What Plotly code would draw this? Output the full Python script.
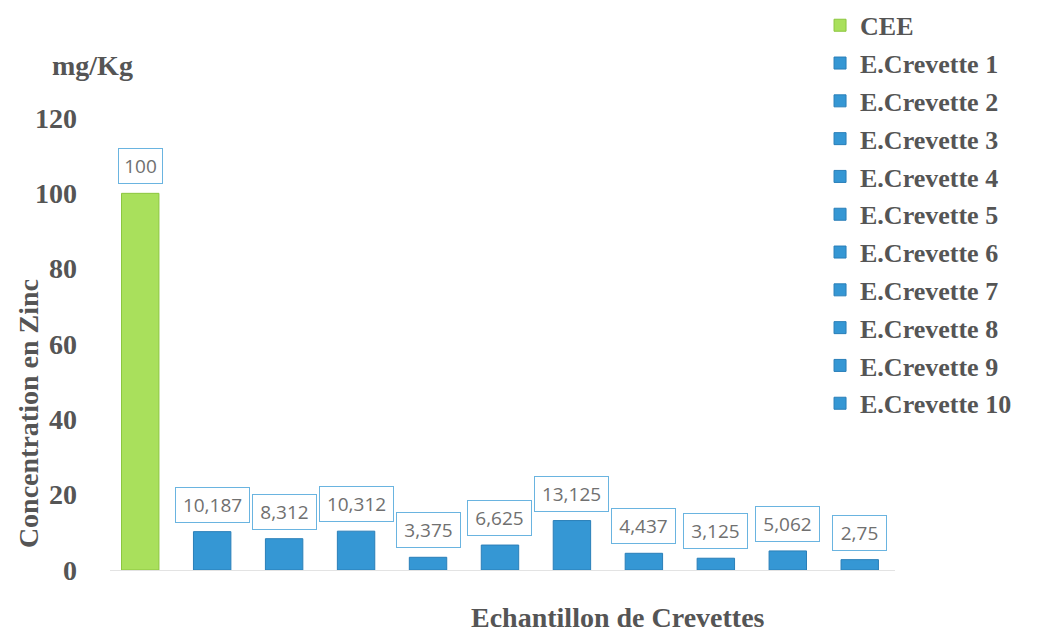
import plotly.graph_objects as go

categories = ["CEE", "E.Crevette 1", "E.Crevette 2", "E.Crevette 3", "E.Crevette 4",
              "E.Crevette 5", "E.Crevette 6", "E.Crevette 7", "E.Crevette 8",
              "E.Crevette 9", "E.Crevette 10"]
values = [100, 10.187, 8.312, 10.312, 3.375, 6.625, 13.125, 4.437, 3.125, 5.062, 2.75]
value_labels = ["100", "10,187", "8,312", "10,312", "3,375", "6,625", "13,125",
                "4,437", "3,125", "5,062", "2,75"]
y_ticks = [0, 20, 40, 60, 80, 100, 120]

GREEN = "#a9e05c"
GREEN_EDGE = "#8cc63f"
BLUE = "#3597d4"
BLUE_EDGE = "#2a7fb8"
TEXT = "#555555"
SERIF = "Liberation Serif"

fig = go.Figure()
for i, (cat, val) in enumerate(zip(categories, values)):
    is_ref = (i == 0)
    fig.add_trace(go.Bar(
        x=[cat], y=[val], name=cat, width=0.52,
        legendgroup=cat,
        marker=dict(color=GREEN if is_ref else BLUE,
                    line=dict(color=GREEN_EDGE if is_ref else BLUE_EDGE, width=1)),
        hoverinfo="x+y",
    ))

annotations = []
for cat, val, lab in zip(categories, values, value_labels):
    annotations.append(dict(
        x=cat, y=val, xref="x", yref="y", text=lab, showarrow=False,
        yanchor="bottom", yshift=9,
        font=dict(family="Open Sans", size=19, color="#707070"),
        bordercolor="#6ab4e0", borderwidth=1, borderpad=4, bgcolor="white",
        width=len(lab) * 10 + 5,
    ))

annotations += [
    dict(text="mg/Kg", xref="paper", yref="paper", x=-0.0217, y=1.117,
         xanchor="center", yanchor="middle", showarrow=False,
         font=dict(family=SERIF, size=28, color=TEXT, weight="bold")),
    dict(text="Concentration en Zinc", xref="paper", yref="paper",
         x=-0.1045, y=0.347, xanchor="center", yanchor="middle",
         textangle=-90, showarrow=False,
         font=dict(family=SERIF, size=28, color=TEXT, weight="bold")),
    dict(text="Echantillon de Crevettes", xref="paper", yref="paper",
         x=0.647, y=-0.106, xanchor="center", yanchor="middle", showarrow=False,
         font=dict(family=SERIF, size=28, color=TEXT, weight="bold")),
]

fig.update_layout(
    width=1046, height=631,
    margin=dict(l=102, r=159, t=110, b=69, autoexpand=False),
    paper_bgcolor="white", plot_bgcolor="white",
    barmode="overlay",
    showlegend=True,
    legend=dict(x=0.9045, y=1.257, xanchor="left", yanchor="top",
                font=dict(family=SERIF, size=26, color=TEXT, weight="bold"),
                tracegroupgap=1, bgcolor="rgba(0,0,0,0)", maxheight=1),
    xaxis=dict(range=[-0.42, 10.49], showticklabels=False, ticks="",
               showgrid=False, showline=True, linecolor="#e3e3e3", linewidth=1,
               zeroline=False),
    yaxis=dict(range=[0, 120], tickvals=y_ticks,
               tickfont=dict(family=SERIF, size=28, color=TEXT, weight="bold"),
               ticklabelstandoff=32,
               showgrid=False, zeroline=False, showline=False),
    annotations=annotations,
)

fig.write_html("out.html")
